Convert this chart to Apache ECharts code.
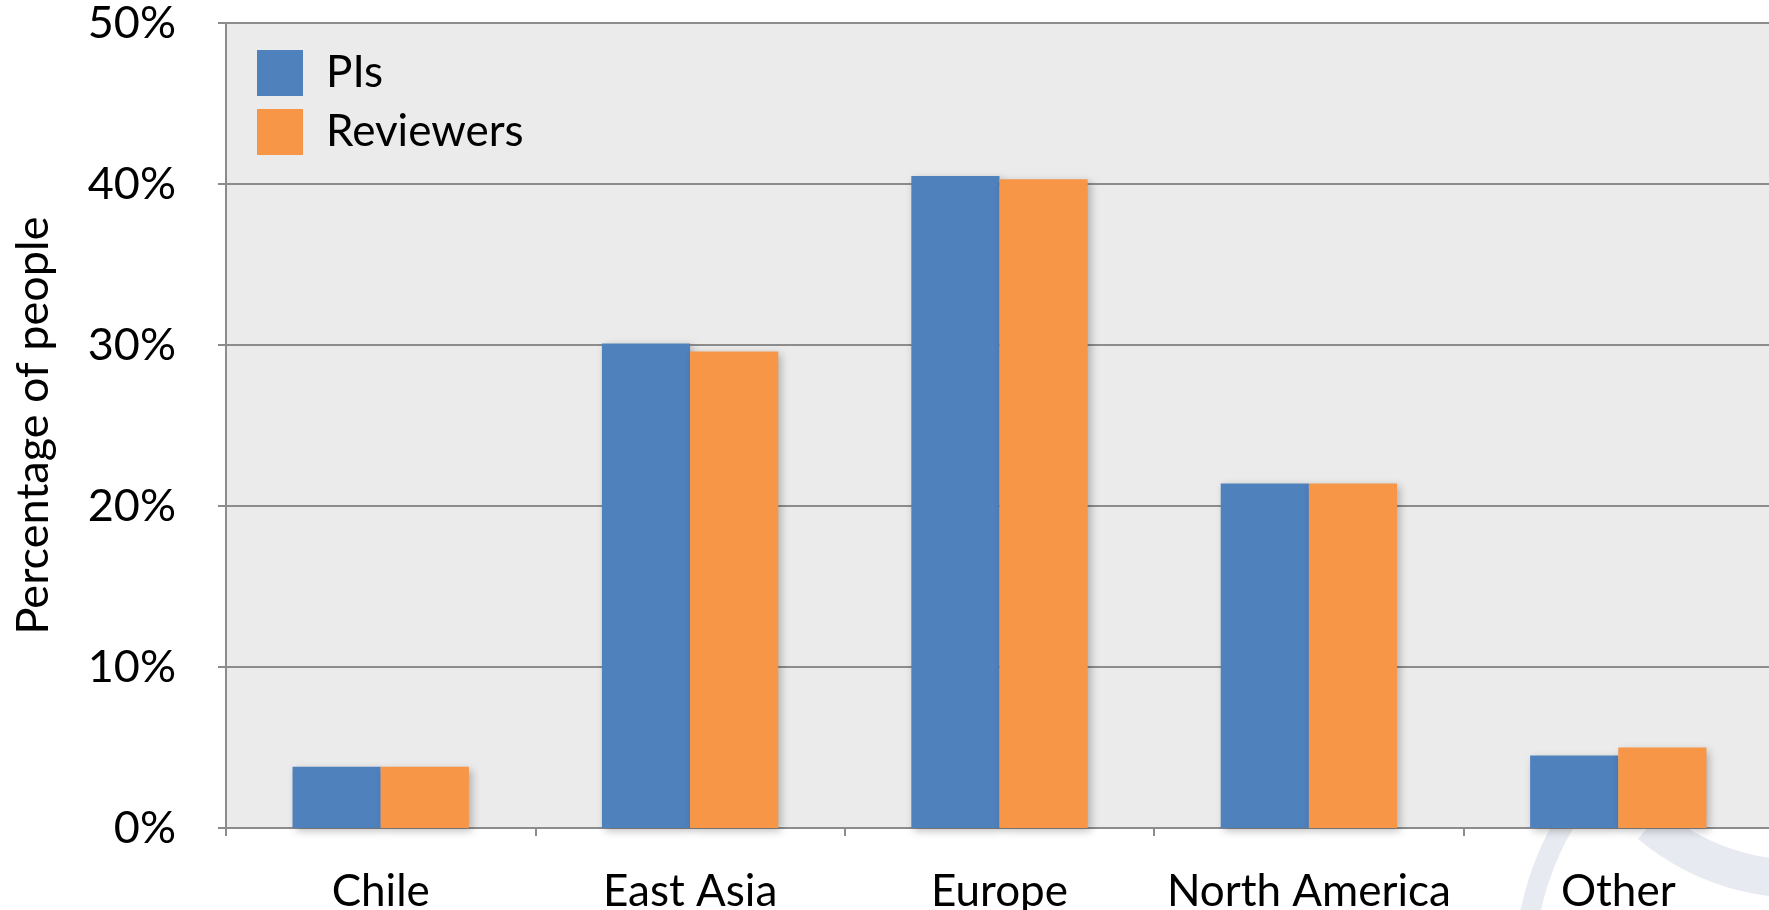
<!DOCTYPE html>
<html>
<head>
<meta charset="utf-8">
<script src="https://cdn.jsdelivr.net/npm/echarts@6/dist/echarts.min.js"></script>
<style>
  html, body { margin: 0; padding: 0; background: #fff; }
  #main { width: 1769px; height: 910px; }
</style>
</head>
<body>
<div id="main"></div>
<script>
// regions on the x axis
const regions = ['Chile', 'East Asia', 'Europe', 'North America', 'Other'];
// share of people, percent
const pis = [3.8, 30.1, 40.5, 21.4, 4.5];
const reviewers = [3.8, 29.6, 40.3, 21.4, 5.0];
const yTicks = [0, 10, 20, 30, 40, 50];

const FONT = 'Lato';
const chart = echarts.init(document.getElementById('main'));

const barShadow = {
  shadowBlur: 8,
  shadowOffsetX: 3,
  shadowOffsetY: 3,
  shadowColor: 'rgba(0,0,0,0.25)'
};

// faint swoosh of the slide template, bottom right
const deg = d => d * Math.PI / 180;

chart.setOption({
  animation: false,
  textStyle: { fontFamily: FONT },
  graphic: [
    {
      type: 'sector', z: -10, silent: true,
      shape: { cx: 1822, cy: 973, r0: 288, r: 308, startAngle: deg(180), endAngle: deg(215) },
      style: { fill: '#e8eaf2' }
    },
    {
      type: 'sector', z: -10, silent: true,
      shape: { cx: 1800, cy: 646, r0: 214, r: 252, startAngle: deg(78), endAngle: deg(130) },
      style: { fill: '#e8eaf2' }
    }
  ],
  grid: {
    left: 226, right: -4, top: 23, bottom: 82,
    outerBoundsMode: 'none',
    show: true, backgroundColor: '#ebebeb', borderWidth: 0
  },
  legend: {
    left: 252, top: 45,
    orient: 'vertical',
    itemWidth: 46, itemHeight: 46, itemGap: 13,
    icon: 'rect',
    textStyle: { fontSize: 44, color: '#000', fontFamily: FONT, padding: [0, 0, 0, 18] },
    data: ['PIs', 'Reviewers']
  },
  xAxis: {
    type: 'category',
    data: regions,
    axisLine: { lineStyle: { color: '#8c8c8c', width: 2 } },
    axisTick: { show: true, interval: 0, length: 8, lineStyle: { color: '#8c8c8c', width: 2 } },
    axisLabel: { interval: 0, fontSize: 44, color: '#000', margin: 42, fontFamily: FONT }
  },
  yAxis: {
    type: 'value',
    min: yTicks[0],
    max: yTicks[yTicks.length - 1],
    interval: 10,
    name: 'Percentage of people',
    nameLocation: 'middle',
    nameGap: 170,
    nameRotate: 90,
    nameTextStyle: { fontSize: 45, color: '#000', fontFamily: FONT },
    axisLine: { show: true, lineStyle: { color: '#8c8c8c', width: 2 } },
    axisTick: { show: true, length: 8, lineStyle: { color: '#8c8c8c', width: 2 } },
    splitLine: { show: true, lineStyle: { color: '#8c8c8c', width: 2 } },
    axisLabel: {
      fontSize: 45, color: '#000', margin: 50, fontFamily: FONT,
      formatter: v => v + '%'
    }
  },
  series: [
    {
      name: 'PIs', type: 'bar', data: pis,
      barGap: '0%', barCategoryGap: '43%',
      itemStyle: Object.assign({ color: '#4f81bd' }, barShadow)
    },
    {
      name: 'Reviewers', type: 'bar', data: reviewers,
      barGap: '0%', barCategoryGap: '43%',
      itemStyle: Object.assign({ color: '#f79646' }, barShadow)
    }
  ]
});
</script>
</body>
</html>
